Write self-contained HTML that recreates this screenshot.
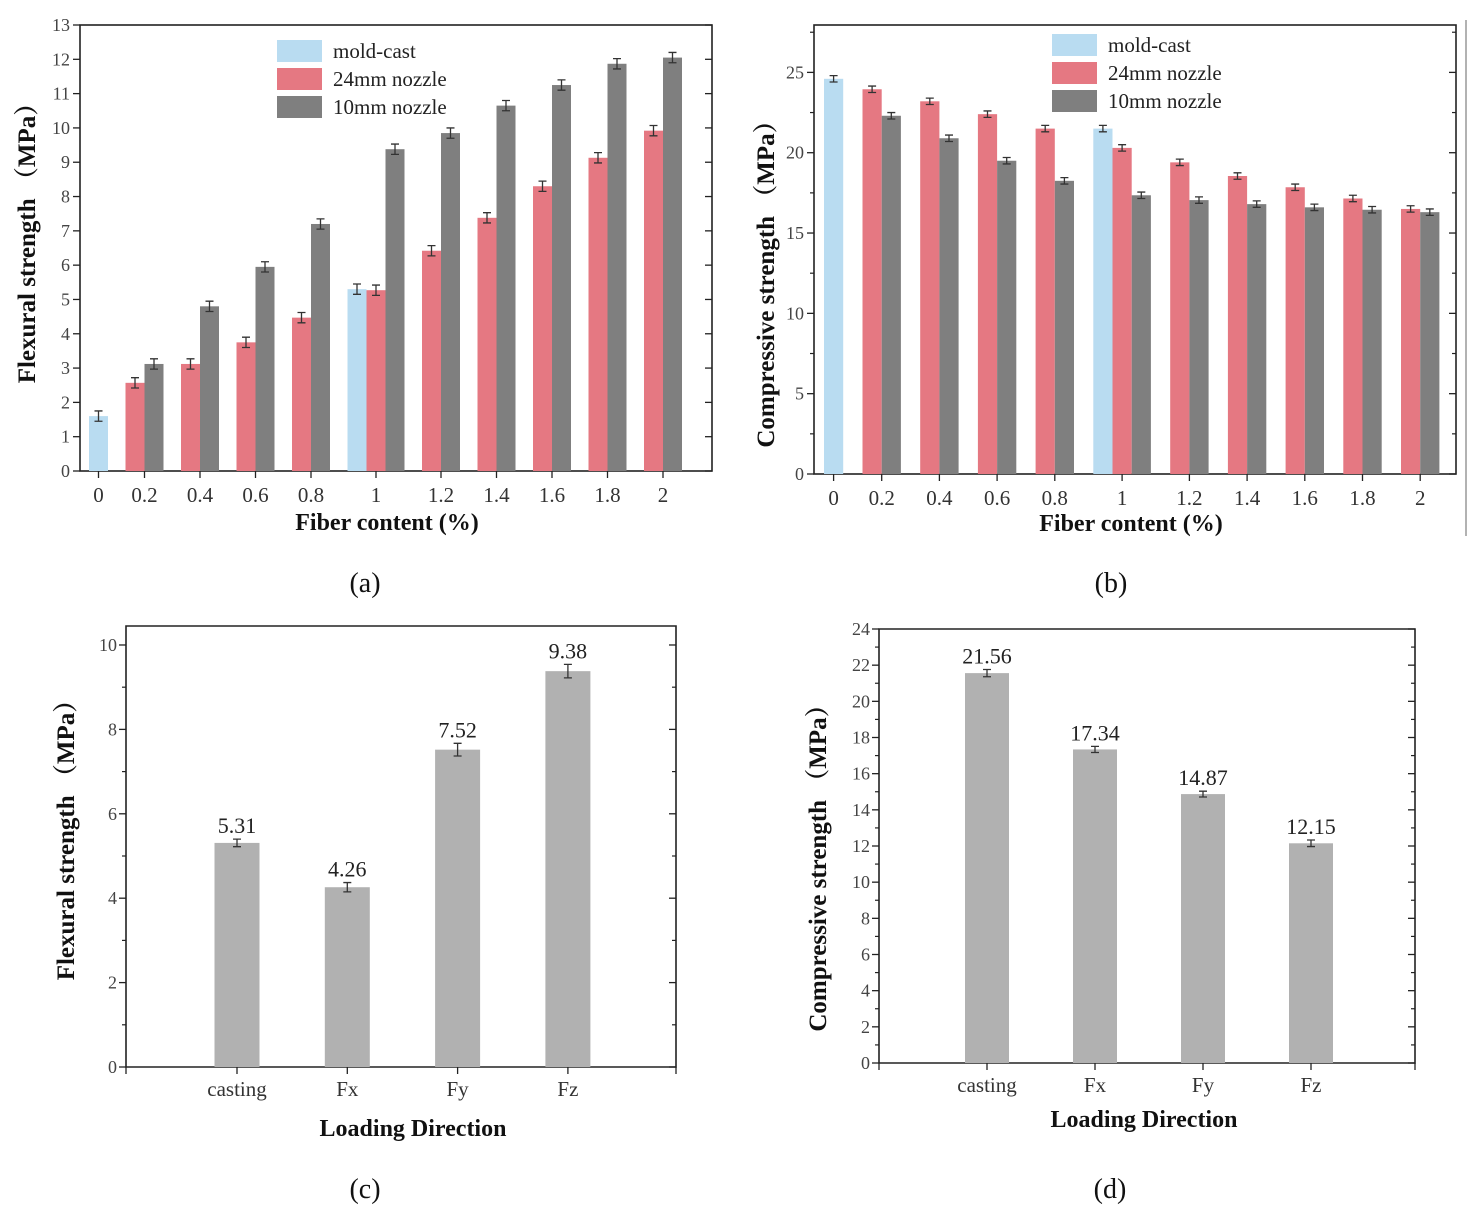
<!DOCTYPE html>
<html><head><meta charset="utf-8">
<style>
html,body{margin:0;padding:0;background:#fff;}
svg{display:block;}
text{font-family:"Liberation Serif","Noto Serif CJK SC",serif;}
</style></head>
<body>
<svg id="fig" width="1482" height="1216" viewBox="0 0 1482 1216" xmlns="http://www.w3.org/2000/svg"></svg>
<script>
// ---- Panel (a) data: flexural strength vs fiber content ----
const catsA = ['0','0.2','0.4','0.6','0.8','1','1.2','1.4','1.6','1.8','2'];
const moldA = [1.6,null,null,null,null,5.3,null,null,null,null,null];
const n24A  = [null,2.57,3.12,3.75,4.47,5.27,6.42,7.38,8.3,9.13,9.92];
const n10A  = [null,3.12,4.8,5.95,7.2,9.38,9.85,10.65,11.25,11.87,12.05];
const errA  = 0.15;
const yTicksA = [0,1,2,3,4,5,6,7,8,9,10,11,12,13];
// ---- Panel (b) data: compressive strength vs fiber content ----
const catsB = ['0','0.2','0.4','0.6','0.8','1','1.2','1.4','1.6','1.8','2'];
const moldB = [24.6,null,null,null,null,21.5,null,null,null,null,null];
const n24B  = [null,23.95,23.2,22.4,21.5,20.3,19.4,18.55,17.85,17.15,16.5];
const n10B  = [null,22.3,20.9,19.5,18.25,17.35,17.05,16.8,16.6,16.45,16.3];
const errB  = 0.2;
const yTicksB = [0,5,10,15,20,25];
// ---- Panel (c) data ----
const catsC = ['casting','Fx','Fy','Fz'];
const valsC = [5.31,4.26,7.52,9.38];
const errsC = [0.09,0.11,0.15,0.16];
const labelsC = ['5.31','4.26','7.52','9.38'];
const yTicksC = [0,2,4,6,8,10];
// ---- Panel (d) data ----
const catsD = ['casting','Fx','Fy','Fz'];
const valsD = [21.56,17.34,14.87,12.15];
const errsD = [0.2,0.17,0.16,0.18];
const labelsD = ['21.56','17.34','14.87','12.15'];
const yTicksD = [0,2,4,6,8,10,12,14,16,18,20,22,24];

const NS='http://www.w3.org/2000/svg';
const svg=document.getElementById('fig');
function el(tag,attrs,parent){const e=document.createElementNS(NS,tag);for(const k in attrs)e.setAttribute(k,attrs[k]);(parent||svg).appendChild(e);return e;}
function txt(s,attrs,parent){const e=el('text',attrs,parent);e.textContent=s;return e;}
const COL={mold:'#b9dcf1',n24:'#e57882',n10:'#7f7f7f',gray:'#b1b1b1',ax:'#333'};

function errBar(g,x,y0,y1,cap){
  const e=el('path',{d:`M${x-cap},${y0}H${x+cap}M${x},${y0}V${y1}M${x-cap},${y1}H${x+cap}`,stroke:'#333','stroke-width':1.3,fill:'none'},g);
  
  
}

function groupedPanel(id,cfg){
  const g=el('g',{});
  
  
  const {L,R,T,B,ymax,cats,series,err,yTicks,minor}=cfg;
  const y=v=>B-(B-T)*v/ymax;
  const fr=el('rect',{x:L,y:T,width:R-L,height:B-T,fill:'none',stroke:'#222','stroke-width':1.6},g);
  
  
  let x=cfg.start;
  cats.forEach((c,i)=>{
    const gx0=x;
    series.forEach(s=>{
      const v=s.vals[i];
      if(v==null)return;
      const r=el('rect',{x:x,y:y(v),width:cfg.bw,height:B-y(v),fill:s.color},g);
      
      
      errBar(g,x+cfg.bw/2,y(v+err),y(v-err),4);
      x+=cfg.bw;
    });
    const cx=(gx0+x)/2;
    el('line',{x1:cx,y1:B,x2:cx,y2:B+7,stroke:'#222','stroke-width':1.3},g);
    const t=txt(c,{x:cx,y:B+31,'text-anchor':'middle','font-size':21,fill:'#333'},g);
    
    
    x+=cfg.gap;
  });
  yTicks.forEach(v=>{
    el('line',{x1:L-7,y1:y(v),x2:L,y2:y(v),stroke:'#222','stroke-width':1.3},g);
    el('line',{x1:R-7,y1:y(v),x2:R,y2:y(v),stroke:'#222','stroke-width':1.3},g);
    const t=txt(String(v),{x:L-10,y:y(v)+6,'text-anchor':'end','font-size':18,fill:'#444'},g);
    
    
  });
  if(minor){
    for(let v=minor;v<ymax;v+=minor*2){
      el('line',{x1:L-4,y1:y(v),x2:L,y2:y(v),stroke:'#222','stroke-width':1.2},g);
      el('line',{x1:R-4,y1:y(v),x2:R,y2:y(v),stroke:'#222','stroke-width':1.2},g);
    }
  }
  cfg.series.forEach((s,k)=>{
    const ly=cfg.legY+k*cfg.legStep;
    const r=el('rect',{x:cfg.legX,y:ly,width:45,height:22,fill:s.color},g);
    
    
    const t=txt(s.label,{x:cfg.legX+56,y:ly+18,'font-size':21,fill:'#222'},g);
    
    
  });
  const yl=txt(cfg.ylabel,{x:0,y:0,'text-anchor':'middle','font-size':25,'font-weight':'bold',fill:'#111',transform:`translate(${cfg.ylx},${cfg.yly}) rotate(-90)`},g);
  
  
  const xl=txt('Fiber content (%)',{x:cfg.xlx,y:cfg.xly,'text-anchor':'middle','font-size':24,'font-weight':'bold',fill:'#111'},g);
  
  
}

groupedPanel('panel-a',{L:80,R:712,T:25,B:471,ymax:13,cats:catsA,err:errA,yTicks:yTicksA,
  start:89,bw:19,gap:17.5,
  series:[{key:'mold',label:'mold-cast',vals:moldA,color:COL.mold},{key:'n24',label:'24mm nozzle',vals:n24A,color:COL.n24},{key:'n10',label:'10mm nozzle',vals:n10A,color:COL.n10}],
  legX:277,legY:40,legStep:28,ylabel:'Flexural strength （MPa）',ylx:35,yly:237,xlx:387,xly:530});
groupedPanel('panel-b',{L:814,R:1456,T:25,B:474,ymax:27.95,cats:catsB,err:errB,yTicks:yTicksB,minor:2.5,
  start:824,bw:19.2,gap:19.3,
  series:[{key:'mold',label:'mold-cast',vals:moldB,color:COL.mold},{key:'n24',label:'24mm nozzle',vals:n24B,color:COL.n24},{key:'n10',label:'10mm nozzle',vals:n10B,color:COL.n10}],
  legX:1052,legY:34,legStep:28,ylabel:'Compressive strength （MPa）',ylx:774,yly:278,xlx:1131,xly:531});
const edge=el('line',{x1:1466,y1:20,x2:1466,y2:536,stroke:'#999','stroke-width':1.5});



function simplePanel(id,cfg){
  const g=el('g',{});
  
  
  const {L,R,T,B,ymax,cats,vals,errs,labels,yTicks}=cfg;
  const y=v=>B-(B-T)*v/ymax;
  el('path',{d:`M${L},${B}V${T}H${R}V${B}Z`,fill:'none',stroke:'#222','stroke-width':1.6},g);
  cats.forEach((c,i)=>{
    const cx=cfg.c0+i*cfg.step;
    const r=el('rect',{x:cx-cfg.bw/2,y:y(vals[i]),width:cfg.bw,height:B-y(vals[i]),fill:COL.gray},g);
    
    
    errBar(g,cx,y(vals[i]+errs[i]),y(vals[i]-errs[i]),4);
    const vl=txt(labels[i],{x:cx,y:y(vals[i]+errs[i])-6,'text-anchor':'middle','font-size':22,fill:'#222'},g);
    
    
    el('line',{x1:cx,y1:B,x2:cx,y2:B+7,stroke:'#222','stroke-width':1.3},g);
    const t=txt(c,{x:cx,y:B+29,'text-anchor':'middle','font-size':21,fill:'#333'},g);
    
    
  });
  el('line',{x1:L,y1:B,x2:L,y2:B+7,stroke:'#222','stroke-width':1.3},g);
  el('line',{x1:R,y1:B,x2:R,y2:B+7,stroke:'#222','stroke-width':1.3},g);
  yTicks.forEach(v=>{
    el('line',{x1:L-7,y1:y(v),x2:L,y2:y(v),stroke:'#222','stroke-width':1.3},g);
    el('line',{x1:R-7,y1:y(v),x2:R,y2:y(v),stroke:'#222','stroke-width':1.3},g);
    const t=txt(String(v),{x:L-9,y:y(v)+6,'text-anchor':'end','font-size':18,fill:'#444'},g);
    
    
  });
  for(let k=0;k<yTicks.length-1;k++){
    const v=(yTicks[k]+yTicks[k+1])/2;
    el('line',{x1:L-4,y1:y(v),x2:L,y2:y(v),stroke:'#222','stroke-width':1.2},g);
    el('line',{x1:R-4,y1:y(v),x2:R,y2:y(v),stroke:'#222','stroke-width':1.2},g);
  }
  const yl=txt(cfg.ylabel,{x:0,y:0,'text-anchor':'middle','font-size':25,'font-weight':'bold',fill:'#111',transform:`translate(${cfg.ylx},${cfg.yly}) rotate(-90)`},g);
  
  
  const xl=txt('Loading Direction',{x:cfg.xlx,y:cfg.xly,'text-anchor':'middle','font-size':24,'font-weight':'bold',fill:'#111'},g);
  
  
}
simplePanel('panel-c',{L:126,R:676,T:626,B:1067,ymax:10.45,cats:catsC,vals:valsC,errs:errsC,labels:labelsC,yTicks:yTicksC,
  c0:237,step:110.3,bw:45,ylabel:'Flexural strength （MPa）',ylx:74,yly:834,xlx:413,xly:1136});
simplePanel('panel-d',{L:879,R:1415,T:629,B:1063,ymax:24,cats:catsD,vals:valsD,errs:errsD,labels:labelsD,yTicks:yTicksD,
  c0:987,step:108,bw:44,ylabel:'Compressive strength （MPa）',ylx:826,yly:862,xlx:1144,xly:1127});

[['(a)',365,592],['(b)',1111,592],['(c)',365,1198],['(d)',1110,1198]].forEach(c=>{
  const t=txt(c[0],{x:c[1],y:c[2],'text-anchor':'middle','font-size':28,fill:'#111'});
  
  
});
</script>
</body></html>
